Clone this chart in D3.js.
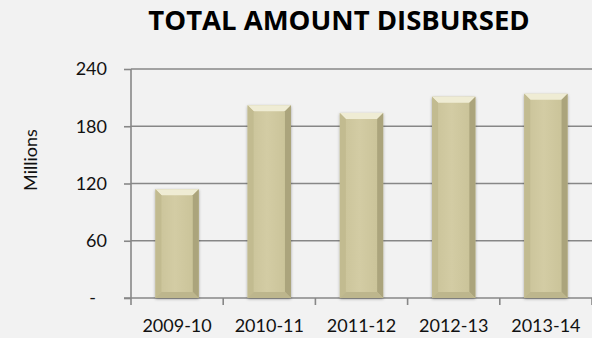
<!DOCTYPE html>
<html><head><meta charset="utf-8">
<script src="https://cdn.jsdelivr.net/npm/d3@7/dist/d3.min.js"></script>
<style>body{margin:0;background:#f2f2f2;} svg{display:block;}</style>
</head><body><svg id="c" width="592" height="338"></svg>
<script>
const categories = ["2009-10","2010-11","2011-12","2012-13","2013-14"];
const values = [114, 202, 194, 211, 214];
const yTicks = [0, 60, 120, 180, 240];
const yTickLabels = ["-", "60", "120", "180", "240"];
const chartTitle = "TOTAL AMOUNT DISBURSED";
const yTitle = "Millions";

(function(){
const svg = d3.select("#c");
svg.append("rect").attr("width",592).attr("height",338).attr("fill","#f2f2f2");
const pl = 131, pt = 69, pb = 298;
const font = "Lato, 'Open Sans', sans-serif";
const x = d3.scaleBand().domain(categories).range([pl, pl + 5*92.2]).paddingInner(0.53).paddingOuter(0.265);
const y = d3.scaleLinear().domain([0,240]).range([pb, pt]);

// gridlines
svg.append("g").selectAll("line").data(yTicks.slice(1)).join("line")
  .attr("x1", pl).attr("x2", 592).attr("y1", d=>y(d)).attr("y2", d=>y(d))
  .attr("stroke","#878787").attr("stroke-width",1.6);

// y axis
const yAxis = d3.axisLeft(y).tickValues(yTicks).tickFormat((d,i)=>yTickLabels[i]).tickSize(7).tickPadding(17);
const gy = svg.append("g").attr("transform",`translate(${pl},0)`).call(yAxis);
gy.select(".domain").attr("stroke","#878787").attr("stroke-width",1.6).attr("d",`M0,${pt}V${pb}`);
gy.selectAll(".tick line").attr("stroke","#878787").attr("stroke-width",1.6);
gy.selectAll("text").attr("font-family",font).attr("font-size",18).attr("fill","#111")
  .attr("dx",(d,i)=>yTickLabels[i]==="-"?-11:0);

// x axis
const step = x.step();
const gx = svg.append("g");
gx.append("line").attr("x1",pl-7).attr("x2",592).attr("y1",pb).attr("y2",pb).attr("stroke","#878787").attr("stroke-width",1.6);
gx.selectAll("line.t").data(d3.range(categories.length+1)).join("line").attr("class","t")
  .attr("x1",i=>pl+i*step).attr("x2",i=>pl+i*step).attr("y1",pb).attr("y2",pb+7)
  .attr("stroke","#878787").attr("stroke-width",1.6);
gx.selectAll("text").data(categories).join("text")
  .attr("x",d=>x(d)+x.bandwidth()/2).attr("y",332)
  .attr("text-anchor","middle").attr("font-family",font).attr("font-size",18).attr("fill","#111")
  .text(d=>d);

// defs
const defs = svg.append("defs");
const g1 = defs.append("linearGradient").attr("id","face").attr("x1",0).attr("x2",1).attr("y1",0).attr("y2",0);
g1.append("stop").attr("offset","0%").attr("stop-color","#c9c298");
g1.append("stop").attr("offset","45%").attr("stop-color","#d3cca4");
g1.append("stop").attr("offset","100%").attr("stop-color","#c8c196");
const flt = defs.append("filter").attr("id","sh").attr("x","-20%").attr("y","-20%").attr("width","140%").attr("height","140%");
flt.append("feDropShadow").attr("dx",0).attr("dy",1).attr("stdDeviation",1.5).attr("flood-color","#000").attr("flood-opacity",0.35);

// bars
const bw = x.bandwidth(), bv = 6;
const bars = svg.append("g").selectAll("g").data(categories).join("g");
bars.each(function(c,i){
  const g = d3.select(this);
  const x0 = x(c), x1 = x0 + bw, y0 = y(values[i]), y1 = y(0);
  g.append("rect").attr("x",x0).attr("y",y0).attr("width",bw).attr("height",y1-y0).attr("fill","url(#face)").attr("filter","url(#sh)");
  g.append("path").attr("d",`M${x0},${y0}L${x1},${y0}L${x1-bv},${y0+bv}L${x0+bv},${y0+bv}Z`).attr("fill","#efecd4");
  g.append("path").attr("d",`M${x0},${y0}L${x0+bv},${y0+bv}L${x0+bv},${y1-bv}L${x0},${y1}Z`).attr("fill","#c2bb90");
  g.append("path").attr("d",`M${x1},${y0}L${x1-bv},${y0+bv}L${x1-bv},${y1-bv}L${x1},${y1}Z`).attr("fill","#aba47c");
  g.append("path").attr("d",`M${x0},${y1}L${x0+bv},${y1-bv}L${x1-bv},${y1-bv}L${x1},${y1}Z`).attr("fill","#bdb68d");
});

// title
svg.append("text").attr("x",339).attr("y",30).attr("text-anchor","middle")
  .attr("font-family","'Open Sans', Lato, sans-serif").attr("font-weight","bold").attr("font-size",27.5).attr("fill","#000")
  .text(chartTitle);
svg.append("text").attr("transform","translate(37,160) rotate(-90)").attr("text-anchor","middle")
  .attr("font-family",font).attr("font-size",18).attr("fill","#111").text(yTitle);
})();
</script></body></html>
